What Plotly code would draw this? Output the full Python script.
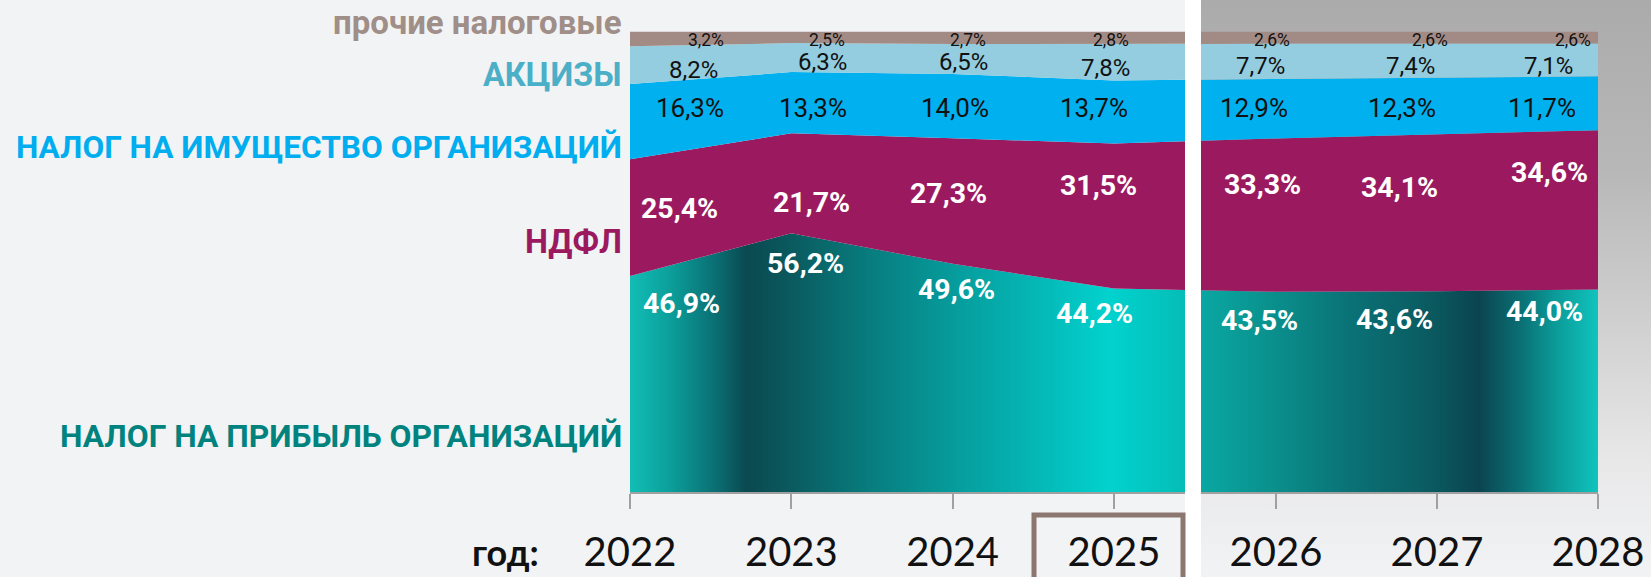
import base64
import plotly.graph_objects as go

# ---------------- data ----------------
YEARS = [2022, 2023, 2024, 2025, 2026, 2027, 2028]
YEAR_LABELS = ["2022", "2023", "2024", "2025", "2026", "2027", "2028"]
PROFIT_TAX = [46.9, 56.2, 49.6, 44.2, 43.5, 43.6, 44.0]
NDFL = [25.4, 21.7, 27.3, 31.5, 33.3, 34.1, 34.6]
PROPERTY_TAX = [16.3, 13.3, 14.0, 13.7, 12.9, 12.3, 11.7]
EXCISE = [8.2, 6.3, 6.5, 7.8, 7.7, 7.4, 7.1]
OTHER_TAX = [3.2, 2.5, 2.7, 2.8, 2.6, 2.6, 2.6]
CATEGORY_NAMES = ["НАЛОГ НА ПРИБЫЛЬ ОРГАНИЗАЦИЙ", "НДФЛ",
                  "НАЛОГ НА ИМУЩЕСТВО ОРГАНИЗАЦИЙ", "АКЦИЗЫ", "прочие налоговые"]
AXIS_TITLE = "год:"
LAST_FACT_YEAR = 2025

SERIES = [PROFIT_TAX, NDFL, PROPERTY_TAX, EXCISE, OTHER_TAX]

# ---------------- styles ----------------
W, H = 1651, 577
COND = "Roboto, Liberation Sans, sans-serif"
YEAR_FONT = "Lato, Carlito, Calibri, sans-serif"

AREA_COLORS = [None, "#9B1A5F", "#00B0EF", "#93CDDF", "#A28B85"]
NAME_COLORS = ["#00837E", "#9B1A5F", "#00AEEF", "#4BAFC7", "#A08E88"]
LABEL_COLORS = ["white", "white", "#111111", "#111111", "#111111"]
LABEL_BOLD = [True, True, False, False, False]
LABEL_SIZE = [28.5, 28.5, 26, 24, 17.5]
NAME_SIZES = [31.8, 32.5, 31.6, 32.5, 33]

TEAL_LEFT = [[0.0, "#12BDB6"], [0.076, "#0B9D99"], [0.16, "#0A6B70"],
             [0.21, "#0A4950"], [0.29, "#0A5A5E"], [0.43, "#087C7E"],
             [0.59, "#069D9D"], [0.74, "#04B9B7"], [0.865, "#02D2CE"],
             [1.0, "#05BDB7"]]
TEAL_RIGHT = [[0.0, "#0AA7A2"], [0.15, "#0A9490"], [0.375, "#0A7276"],
              [0.58, "#0A5A60"], [0.70, "#0B4450"], [0.80, "#0A6E72"],
              [0.90, "#0B9E9B"], [1.0, "#10C4BD"]]

# label placement (pixel offsets from the band top / the year position)
LABEL_XSHIFT = [
    [91.6, 54.7, 44.3, 21, 24.3, -2.1, -13],
    [90, 60.7, 36.8, 25, 27.3, 3.4, -8],
    [95.5, 57.7, 38.3, 16, 14.3, 0.9, -20.5],
    [90, 57.7, 37.3, 18, 11.3, 0.4, -23],
    [95.5, 55.7, 35.3, 17, 16.3, 13.4, -5],
]
LABEL_YSHIFT = [
    [-27.5, -30.7, -25.4, -25, -28.3, -28.7, -21.6],
    [-49, -68.7, -55.5, -42.5, -45.6, -53.2, -41.9],
    [-23.9, -35.9, -34.5, -27.6, -29, -30.4, -31.8],
    [-23.5, -18.9, -18, -23.5, -22.4, -22.4, -22.4],
    [-8, -8, -8, -8, -8, -8, -8],
]
NAME_Y_PX = [436, 242, 147, 75, 22]
NAME_RIGHT_PX = 624

# geometry
PLOT_TOP, PLOT_BOTTOM = 31.6, 492
LEFT_DOMAIN = [630 / W, 1185 / W]
RIGHT_DOMAIN = [1201 / W, 1598 / W]
LEFT_RANGE = [2022, 2025.44]
RIGHT_RANGE = [2025.534, 2028]

fig = go.Figure()

panels = [("x", "y", "left", TEAL_LEFT, LEFT_RANGE),
          ("x2", "y2", "right", TEAL_RIGHT, RIGHT_RANGE)]
for xa, ya, grp, teal, rng in panels:
    for i, vals in enumerate(SERIES):
        kw = dict(x=YEARS, y=vals, xaxis=xa, yaxis=ya, stackgroup=grp,
                  groupnorm="percent", mode="lines", line=dict(width=0),
                  name=CATEGORY_NAMES[i], showlegend=False, hoverinfo="skip")
        if i == 0:
            kw["fillgradient"] = dict(type="horizontal", colorscale=teal,
                                      start=rng[0], stop=rng[1])
        else:
            kw["fillcolor"] = AREA_COLORS[i]
        fig.add_trace(go.Scatter(**kw))

# value labels
totals = [sum(s[j] for s in SERIES) for j in range(len(YEARS))]
annotations = []
for i, vals in enumerate(SERIES):
    for j, yr in enumerate(YEARS):
        top = sum(SERIES[k][j] for k in range(i + 1)) / totals[j] * 100
        right = yr > LAST_FACT_YEAR
        txt = f"{vals[j]:.1f}".replace(".", ",") + "%"
        if LABEL_BOLD[i]:
            txt = "<b>" + txt + "</b>"
        annotations.append(dict(
            x=yr, y=top, xref="x2" if right else "x", yref="y2" if right else "y",
            text=txt, showarrow=False, xanchor="right", yanchor="middle",
            xshift=LABEL_XSHIFT[i][j], yshift=LABEL_YSHIFT[i][j],
            font=dict(family=COND, size=LABEL_SIZE[i], color=LABEL_COLORS[i])))

# category names on the left
for i, name in enumerate(CATEGORY_NAMES):
    annotations.append(dict(
        x=NAME_RIGHT_PX / W, y=1 - NAME_Y_PX[i] / H, xref="paper", yref="paper",
        text="<b>" + name + "</b>", showarrow=False, xanchor="right",
        yanchor="middle", font=dict(family=COND, size=NAME_SIZES[i], color=NAME_COLORS[i])))

annotations.append(dict(
    x=541 / W, y=1 - 552 / H, xref="paper", yref="paper", text="<b>" + AXIS_TITLE + "</b>",
    showarrow=False, xanchor="right", yanchor="middle",
    font=dict(family=YEAR_FONT, size=36, color="#111111")))

# background
svg = f'''<svg xmlns="http://www.w3.org/2000/svg" width="{W}" height="{H}" viewBox="0 0 {W} {H}" preserveAspectRatio="none">
<defs><linearGradient id="g" x1="0" y1="0" x2="0" y2="1">
<stop offset="0" stop-color="#ABABAB"/><stop offset="0.3" stop-color="#B8B8B8"/>
<stop offset="0.55" stop-color="#CFCFCF"/><stop offset="0.8" stop-color="#E8E8E9"/>
<stop offset="1" stop-color="#F2F3F5"/></linearGradient></defs>
<rect x="0" y="0" width="{W}" height="{H}" fill="#F2F3F5"/>
<rect x="1201" y="0" width="{W - 1201}" height="{H}" fill="url(#g)"/>
</svg>'''
src = "data:image/svg+xml;base64," + base64.b64encode(svg.encode()).decode()

shapes = [
    dict(type="rect", xref="paper", yref="paper", x0=1185 / W, x1=1201 / W, y0=0, y1=1,
         fillcolor="white", line=dict(width=0), layer="below"),
    dict(type="rect", xref="paper", yref="paper", x0=1034 / W, x1=1183 / W,
         y0=-0.05, y1=1 - 515 / H, line=dict(color="#8B7670", width=5),
         fillcolor="rgba(0,0,0,0)"),
]

axis_common = dict(showgrid=False, zeroline=False, showline=True, linecolor="#A0A0A0",
                   linewidth=2, ticks="outside", ticklen=15, tickwidth=2,
                   tickcolor="#A0A0A0", tickfont=dict(family=YEAR_FONT, size=40, color="#111111"),
                   ticklabelstandoff=9, fixedrange=True, automargin=False)
yaxis_common = dict(range=[0, 100], domain=[(H - PLOT_BOTTOM) / H, (H - PLOT_TOP) / H],
                    showgrid=False, zeroline=False, showticklabels=False, showline=False,
                    fixedrange=True, automargin=False)

fig.update_layout(
    template="none",
    width=W, height=H, margin=dict(l=0, r=0, t=0, b=0, pad=0, autoexpand=False),
    autosize=False,
    paper_bgcolor="#F2F3F5", plot_bgcolor="rgba(0,0,0,0)",
    xaxis=dict(domain=LEFT_DOMAIN, range=LEFT_RANGE, anchor="y",
               tickvals=YEARS[:4], ticktext=YEAR_LABELS[:4], **axis_common),
    xaxis2=dict(domain=RIGHT_DOMAIN, range=RIGHT_RANGE, anchor="y2",
                tickvals=YEARS[4:], ticktext=YEAR_LABELS[4:], **axis_common),
    yaxis=dict(anchor="x", **yaxis_common),
    yaxis2=dict(anchor="x2", **yaxis_common),
    annotations=annotations, shapes=shapes,
    images=[dict(source=src, xref="paper", yref="paper", x=0, y=1, sizex=1, sizey=1,
                 sizing="stretch", xanchor="left", yanchor="top", layer="below")],
)

fig.write_html("out.html", config={"responsive": False, "displayModeBar": False},
               post_script="document.body.style.margin='0';document.body.style.overflow='hidden';")
